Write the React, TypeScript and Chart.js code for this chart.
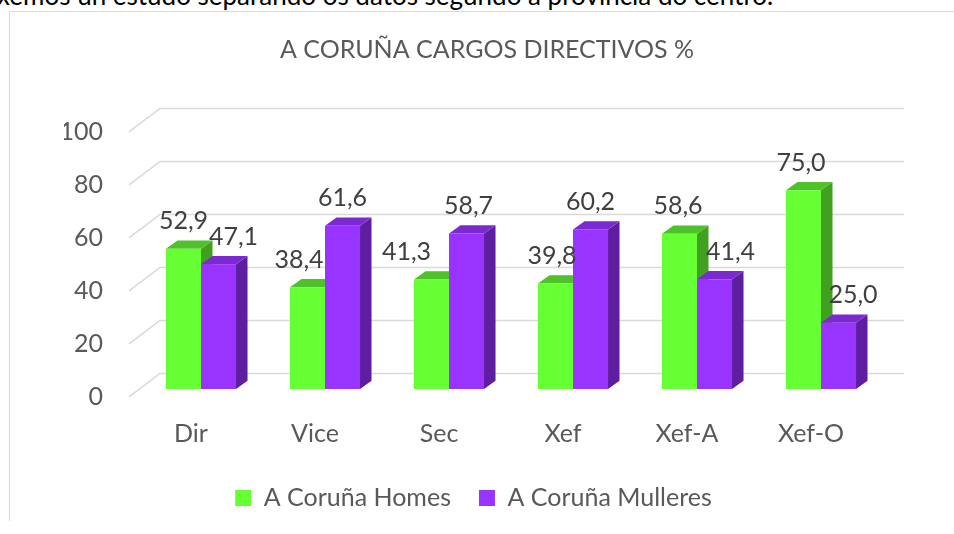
import { useEffect, useRef } from "react";
import { Chart, registerables } from "chart.js";

Chart.register(...registerables);

// ---- data ----
const categories = ["Dir", "Vice", "Sec", "Xef", "Xef-A", "Xef-O"];
const homes = [52.9, 38.4, 41.3, 39.8, 58.6, 75.0];
const mulleres = [47.1, 61.6, 58.7, 60.2, 41.4, 25.0];
const seriesNames = ["A Coruña Homes", "A Coruña Mulleres"];
const yTicks = [0, 20, 40, 60, 80, 100];
const chartTitle = "A CORUÑA CARGOS DIRECTIVOS %";
const pageText = "xemos un estudo separando os datos segundo a provincia do centro.";

// ---- styles ----
const FONT = "Lato";
const TEXT = "#595959";
const DEPTH = { dx: 11.5, dy: 8.3 };
const WALL = { front: 7.8, back: -15.5, frontDx: -10, backDx: 21 };
const faces = [
  { front: "#66FF33", top: "#4fc12b", side: "#41a01f" },
  { front: "#9933FF", top: "#7b2ad1", side: "#5f1e9f" },
];
const labelShift = [
  [0, -8.5, -25, -3.5, -1.5, -2.5],
  [15, 0, 2, 0, 16, 14.5],
];

function poly(ctx: CanvasRenderingContext2D, pts: number[][], color: string) {
  ctx.fillStyle = color;
  ctx.beginPath();
  ctx.moveTo(pts[0][0], pts[0][1]);
  for (let i = 1; i < pts.length; i++) ctx.lineTo(pts[i][0], pts[i][1]);
  ctx.closePath();
  ctx.fill();
}

const excel3d = {
  id: "excel3d",
  beforeDraw(chart: any) {
    const ctx = chart.ctx as CanvasRenderingContext2D;
    ctx.save();
    ctx.strokeStyle = "#d9d9d9";
    ctx.lineWidth = 1;
    ctx.beginPath();
    ctx.moveTo(9.5, 521);
    ctx.lineTo(9.5, 11.5);
    ctx.lineTo(954, 11.5);
    ctx.stroke();
    ctx.font = `25px ${FONT}`;
    ctx.fillStyle = TEXT;
    ctx.textAlign = "center";
    ctx.textBaseline = "alphabetic";
    ctx.fillText(chartTitle, 487, 58);
    ctx.restore();
  },
  beforeDatasetsDraw(chart: any) {
    const ctx = chart.ctx as CanvasRenderingContext2D;
    const { chartArea, scales } = chart;
    const ys = scales.y;
    ctx.save();
    ctx.strokeStyle = "#d9d9d9";
    ctx.lineWidth = 1.5;
    for (const v of yTicks) {
      const py = ys.getPixelForValue(v);
      ctx.beginPath();
      ctx.moveTo(chartArea.left + WALL.frontDx, py + WALL.front);
      ctx.lineTo(chartArea.left + WALL.backDx, py + WALL.back);
      ctx.lineTo(chartArea.right + WALL.backDx, py + WALL.back);
      ctx.stroke();
    }
    const metas = chart.data.datasets.map((_: any, i: number) => chart.getDatasetMeta(i));
    const { dx, dy } = DEPTH;
    for (let i = 0; i < categories.length; i++) {
      metas.forEach((meta: any, d: number) => {
        const el = meta.data[i];
        if (!el) return;
        const { x, y, base, width } = el.getProps(["x", "y", "base", "width"], true);
        const l = x - width / 2;
        const r = x + width / 2;
        const f = faces[d];
        poly(ctx, [[r, y], [r + dx, y - dy], [r + dx, base - dy], [r, base]], f.side);
        poly(ctx, [[l, y], [l + dx, y - dy], [r + dx, y - dy], [r, y]], f.top);
        ctx.fillStyle = f.front;
        ctx.fillRect(l, y, width, base - y);
      });
    }
    ctx.restore();
    return false;
  },
  afterDraw(chart: any) {
    const ctx = chart.ctx as CanvasRenderingContext2D;
    ctx.save();
    ctx.font = `25px ${FONT}`;
    ctx.fillStyle = "#404040";
    ctx.textAlign = "center";
    ctx.textBaseline = "alphabetic";
    chart.data.datasets.forEach((ds: any, d: number) => {
      const meta = chart.getDatasetMeta(d);
      meta.data.forEach((el: any, i: number) => {
        const { x, y } = el.getProps(["x", "y"], true);
        const txt = Number(ds.data[i]).toFixed(1).replace(".", ",");
        ctx.fillText(txt, x + labelShift[d][i], y - 19.5);
      });
    });
    ctx.restore();
  },
};

export default function App() {
  const ref = useRef<HTMLCanvasElement | null>(null);

  useEffect(() => {
    if (!ref.current) return;
    const font = { family: FONT, size: 25 };
    const chart = new Chart(ref.current, {
      type: "bar",
      data: {
        labels: categories,
        datasets: [
          { label: seriesNames[0], data: homes, backgroundColor: faces[0].front, borderWidth: 0 },
          { label: seriesNames[1], data: mulleres, backgroundColor: faces[1].front, borderWidth: 0 },
        ],
      },
      options: {
        animation: false,
        responsive: true,
        maintainAspectRatio: false,
        events: [],
        datasets: { bar: { categoryPercentage: 0.565, barPercentage: 1 } },
        layout: { padding: { top: 124, left: 64, right: 71, bottom: 13.5 } },
        plugins: {
          tooltip: { enabled: false },
          title: { display: false },
          legend: {
            position: "bottom",
            labels: { font, color: TEXT, boxWidth: 16, boxHeight: 16, padding: 28 },
          },
        },
        scales: {
          x: {
            grid: { display: false, drawTicks: false },
            border: { display: false },
            ticks: { font, color: TEXT, padding: 30, labelOffset: -10, maxRotation: 0, autoSkip: false },
            afterFit: (s: any) => { s.height = 68.5; },
          },
          y: {
            min: 0,
            max: 100,
            grid: { display: false, drawTicks: false },
            border: { display: false },
            ticks: { font, color: TEXT, stepSize: 20, padding: 36, labelOffset: 7.8 },
            afterFit: (s: any) => { s.width = 75; },
          },
        },
      },
      plugins: [excel3d as any],
    });
    return () => chart.destroy();
  }, []);

  return (
    <div style={{ position: "absolute", left: 0, top: 0, width: 954, height: 534, overflow: "hidden" }}>
      <div
        style={{
          position: "absolute",
          left: -3,
          top: -18,
          fontFamily: FONT,
          fontSize: 26,
          lineHeight: "26px",
          whiteSpace: "nowrap",
          color: "#000",
        }}
      >
        {pageText}
      </div>
      <div style={{ position: "absolute", left: 0, top: 0, width: 954, height: 534 }}>
        <canvas ref={ref} />
      </div>
    </div>
  );
}
